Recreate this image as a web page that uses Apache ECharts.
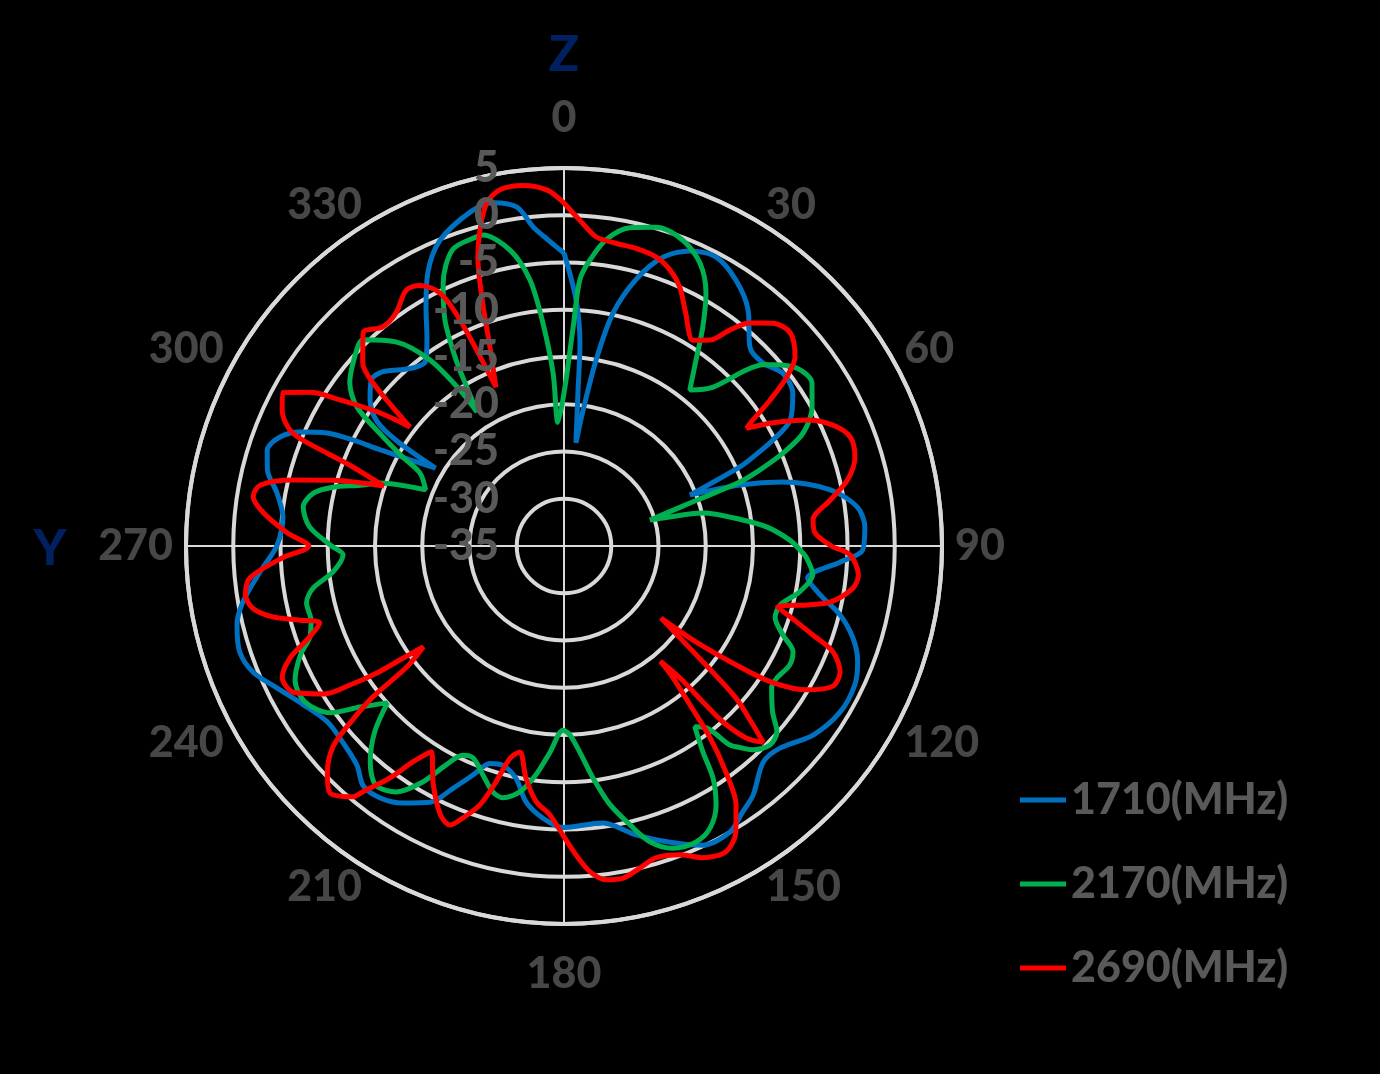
<!DOCTYPE html>
<html>
<head>
<meta charset="utf-8">
<script src="https://cdn.jsdelivr.net/npm/echarts@6/dist/echarts.min.js"></script>
<style>
html,body{margin:0;padding:0;background:#000;}
#chart{width:1380px;height:1074px;}
</style>
</head>
<body>
<div id="chart"></div>
<script>
// ---- data: [angle (deg), gain (dB)] ----
const seriesNames = ['1710(MHz)', '2170(MHz)', '2690(MHz)'];
const angleTicks = [0, 30, 60, 90, 120, 150, 180, 210, 240, 270, 300, 330];
const axisTitles = ['Z', 'Y'];

const blue1710 = [
 [0,-4.0],[2.8,-8.9],[4.5,-13.5],[5.2,-18.7],[6.6,-24.0],[8.0,-20.5],[9.8,-15.0],[11.9,-9.8],[15.1,-5.8],[18.9,-2.7],
 [23.1,-1.05],[27.7,-0.45],[32.9,-1.5],[37.9,-3.3],[43.1,-6.2],[47.4,-6.4],[51.7,-5.5],[56.3,-5.9],[60.9,-7.6],[63.1,-10.2],
 [64.8,-12.9],[65.8,-14.6],[68.0,-20.6],[70.9,-15.3],[73.7,-10.9],[78.1,-6.2],[82.4,-3.7],[86.4,-3.1],[90.8,-3.4],[93.3,-5.7],
 [97.5,-9.0],[100.8,-7.4],[104.0,-4.9],[107.7,-2.9],[111.5,-1.6],[115.5,-0.9],[121.0,-0.9],[127.2,-1.9],[133.1,-3.7],[137.3,-3.9],
 [142.8,-1.9],[146.1,-1.1],[149.9,0.0],[155.1,-0.1],[160.3,-1.7],[166.0,-3.5],[172.0,-5.4],[180.2,-5.2],[184.4,-6.1],[188.4,-7.6],
 [191.7,-9.9],[195.6,-10.9],[198.8,-10.7],[201.7,-8.9],[204.6,-6.8],[207.6,-4.4],[212.1,-2.9],[216.1,-2.0],[219.9,-1.9],[223.4,-3.1],
 [228.4,-3.7],[233.4,-3.8],[238.7,-2.7],[243.7,-1.1],[247.9,0.5],[251.9,1.1],[256.4,0.6],[260.1,-0.5],[265.1,-2.7],[270.0,-4.6],
 [275.9,-5.1],[280.5,-4.1],[284.4,-2.6],[287.9,-2.0],[291.0,-2.8],[293.4,-4.6],[295.5,-7.2],[296.7,-10.0],[297.6,-13.0],[301.2,-19.1],
 [302.2,-14.0],[303.8,-11.1],[307.0,-9.3],[310.7,-8.1],[313.9,-8.4],[317.0,-9.5],[319.7,-10.3],[323.0,-10.6],[326.4,-8.8],[330.0,-5.8],
 [333.5,-2.7],[337.9,-0.1],[344.3,1.7],[348.3,2.1],[352.1,1.2],[354.5,-1.1],[356.9,-2.5]
];

const green2170 = [
 [1.0,-16.7],[2.4,-11.8],[3.4,-6.8],[5.0,-4.8],[7.8,-2.3],[11.7,-0.6],[16.1,0.1],[21.3,-0.3],[25.7,-1.8],[29.3,-4.3],
 [32.4,-7.6],[35.4,-10.9],[38.9,-13.8],[43.1,-12.0],[46.0,-8.2],[47.7,-6.5],[49.1,-5.7],[52.6,-4.0],[56.7,-3.6],[60.7,-4.9],
 [64.7,-7.0],[67.0,-9.8],[68.8,-12.8],[70.0,-15.2],[71.0,-20.3],[73.2,-25.5],[74.2,-24.1],[76.6,-19.9],[81.7,-15.9],[84.7,-13.4],
 [88.5,-11.1],[91.0,-10.0],[92.8,-9.3],[96.6,-8.5],[101.0,-9.6],[105.3,-11.3],[108.8,-11.4],[112.1,-10.0],[114.8,-8.3],[117.8,-8.0],
 [121.8,-8.5],[124.3,-8.4],[128.5,-6.8],[131.1,-5.1],[134.0,-4.7],[137.2,-5.6],[138.9,-6.7],[140.2,-7.6],[142.0,-10.6],[144.1,-11.4],
 [146.0,-8.7],[147.3,-5.8],[149.6,-3.2],[152.6,-1.4],[156.0,-0.7],[160.2,-1.0],[163.8,-2.4],[166.7,-4.7],[169.9,-7.2],[172.9,-10.3],
 [175.6,-13.1],[178.2,-15.0],[180.3,-15.5],[183.9,-13.1],[187.0,-10.6],[190.1,-8.6],[193.6,-7.6],[196.1,-7.9],[199.5,-9.3],[203.2,-10.6],
 [205.8,-10.4],[208.3,-8.7],[210.9,-5.9],[214.3,-3.5],[218.2,-2.8],[221.9,-4.3],[225.5,-6.9],[228.4,-10.0],[231.7,-7.5],[234.5,-4.6],
 [239.0,-3.0],[243.5,-3.2],[247.5,-4.8],[250.5,-6.5],[253.6,-7.1],[257.5,-7.1],[260.5,-8.1],[263.6,-10.4],[267.7,-11.6],[270.0,-10.4],
 [274.3,-8.0],[278.5,-7.1],[281.9,-7.9],[284.3,-9.8],[286.6,-12.5],[288.9,-14.4],[292.1,-19.2],[296.9,-17.9],[298.9,-15.5],[301.1,-12.6],
 [303.9,-8.6],[307.3,-6.5],[313.4,-4.8],[315.7,-4.5],[320.5,-7.0],[324.2,-10.7],[326.3,-15.2],[327.0,-18.1],[328.4,-15.6],[329.9,-12.2],
 [332.2,-8.0],[335.3,-4.4],[339.4,-1.5],[344.1,-1.0],[345.4,-1.0],[349.7,-3.2],[352.7,-6.6],[354.6,-11.3],[356.4,-16.7],[357.2,-21.9]
];

const red2690 = [
 [0,1.3],[2.8,-0.5],[5.9,-2.1],[9.7,-2.5],[13.6,-2.6],[17.7,-2.9],[21.0,-3.7],[24.1,-5.0],[27.6,-7.2],[32.1,-9.3],
 [35.3,-8.3],[37.5,-6.2],[39.8,-4.3],[43.1,-2.7],[46.7,-2.1],[50.7,-3.4],[52.8,-5.4],[54.7,-8.3],[56.3,-11.0],[57.2,-12.0],
 [59.5,-9.3],[62.6,-6.0],[65.8,-3.8],[69.1,-2.6],[73.0,-2.8],[76.9,-4.2],[80.2,-6.4],[84.0,-8.5],[87.0,-8.4],[90.0,-6.7],
 [91.8,-4.7],[95.6,-3.7],[98.3,-4.1],[101.9,-6.2],[103.6,-8.5],[105.9,-11.5],[107.4,-9.9],[109.7,-7.0],[111.5,-4.4],[114.5,-2.9],
 [117.5,-2.9],[120.6,-5.1],[123.2,-8.6],[124.5,-12.4],[126.0,-17.7],[126.6,-22.2],[128.4,-19.3],[130.0,-15.4],[131.5,-10.7],[133.4,-7.5],
 [134.6,-5.4],[136.5,-7.0],[137.9,-9.9],[138.3,-12.9],[138.7,-16.4],[140.1,-19.1],[140.4,-16.9],[141.6,-13.5],[142.7,-9.5],[144.4,-5.6],
 [146.4,-2.1],[149.0,0.3],[152.1,1.6],[156.0,1.1],[159.4,-0.1],[163.6,-0.6],[166.7,0.0],[169.9,0.7],[172.8,0.6],[175.4,-0.4],
 [177.8,-2.3],[180.2,-4.4],[183.0,-6.5],[186.2,-7.8],[189.3,-10.1],[192.1,-12.7],[194.3,-11.8],[196.1,-9.0],[198.0,-6.2],[200.4,-4.3],
 [202.2,-3.1],[204.7,-3.7],[208.7,-6.2],[212.8,-9.1],[215.0,-7.1],[216.9,-4.3],[219.3,-1.4],[220.1,-0.3],[223.5,1.0],[226.2,-0.3],
 [229.0,-2.6],[230.4,-5.6],[231.7,-9.2],[232.4,-14.0],[234.4,-16.7],[235.2,-13.9],[235.8,-11.2],[237.0,-8.0],[238.3,-5.2],[241.5,-2.5],
 [245.0,-2.1],[247.8,-3.7],[250.0,-6.1],[252.5,-7.9],[254.3,-6.0],[256.3,-3.3],[258.7,-1.4],[261.3,-0.9],[264.2,-1.6],[267.6,-5.2],
 [270.0,-8.0],[272.7,-5.7],[276.3,-3.0],[279.0,-1.7],[281.3,-2.2],[283.7,-5.5],[285.9,-9.6],[288.4,-14.9],[290.5,-11.2],[291.4,-8.1],
 [292.6,-3.9],[295.7,-1.9],[298.6,-1.1],[301.2,-3.6],[303.1,-6.7],[305.9,-11.0],[307.7,-14.4],[310.5,-8.4],[312.3,-6.2],[316.7,-4.0],
 [320.4,-4.9],[324.2,-4.6],[328.3,-3.2],[331.1,-3.5],[333.9,-5.2],[335.3,-8.7],[336.8,-16.7],[339.6,-12.5],[341.6,-7.6],[343.4,-3.1],
 [345.1,-0.4],[347.3,2.2],[349.8,3.3],[353.5,3.4],[357.3,2.7]
];

// ---- layout / style ----
const CENTER = [564, 546];
const RADIUS = 378;
const LABEL_COLOR = '#595959';
const GRID_COLOR = '#d9d9d9';
const FONT = 'Lato';
const FONT_SIZE = 43;
const FONT_WEIGHT = 900;
const colors = ['#0070C0', '#00B050', '#FF0000'];

function toPolarData(pairs) {
  const d = pairs.map(p => [p[1], p[0]]);
  d.push([pairs[0][1], pairs[0][0] + 360]);
  return d;
}

const measureCtx = document.createElement('canvas').getContext('2d');
measureCtx.font = FONT_WEIGHT + ' ' + FONT_SIZE + 'px ' + FONT;
function tickLabelItem(a) {
  const text = String(a);
  const t = a * Math.PI / 180;
  const ux = Math.sin(t), uy = -Math.cos(t);
  const w = measureCtx.measureText(text).width;
  let off;
  if (Math.abs(ux) < 0.01) off = [0, Math.sign(uy) * 50];
  else off = [Math.sign(ux) * (13 + w / 2), uy * 15.6];
  return { value: [5, a], label: { offset: off, formatter: text } };
}

const chart = echarts.init(document.getElementById('chart'), null, { renderer: 'canvas' });
const dataSets = [blue1710, green2170, red2690];
const textCommon = { color: LABEL_COLOR, fontSize: FONT_SIZE, fontWeight: FONT_WEIGHT, fontFamily: FONT };

const option = {
  backgroundColor: '#000000',
  animation: false,
  polar: [
    { center: CENTER, radius: RADIUS },
    { center: CENTER, radius: RADIUS }
  ],
  angleAxis: [
    {
      polarIndex: 0, type: 'value', min: 0, max: 360, interval: 90,
      startAngle: 90, clockwise: true,
      axisLine: { show: true, lineStyle: { color: GRID_COLOR, width: 4 } },
      axisTick: { show: false }, axisLabel: { show: false },
      splitLine: { show: true, lineStyle: { color: GRID_COLOR, width: 2 } }
    },
    {
      polarIndex: 1, type: 'value', min: 0, max: 360, startAngle: 90, clockwise: true,
      axisLine: { show: false }, axisTick: { show: false }, axisLabel: { show: false }, splitLine: { show: false }
    }
  ],
  radiusAxis: [
    {
      polarIndex: 0, type: 'value', min: -35, max: 5, interval: 5,
      axisLine: { show: false }, axisTick: { show: false }, axisLabel: { show: false },
      splitLine: { show: true, lineStyle: { color: GRID_COLOR, width: 4 } }
    },
    {
      polarIndex: 1, type: 'value', min: -35, max: 5, interval: 5, z: 10,
      axisLine: { show: false }, axisTick: { show: false }, splitLine: { show: false },
      axisLabel: Object.assign({ show: true, margin: 65 }, textCommon)
    }
  ],
  legend: {
    orient: 'vertical', left: 1020, top: 775, itemGap: 34, padding: 0,
    icon: 'rect', itemWidth: 46, itemHeight: 5,
    data: seriesNames,
    textStyle: Object.assign({ lineHeight: 50 }, textCommon)
  },
  graphic: [
    { type: 'text', x: 564, y: 55, z: 20, style: { text: axisTitles[0], fill: '#002060', font: '900 50px ' + FONT, textAlign: 'center', textVerticalAlign: 'middle' } },
    { type: 'text', x: 50, y: 549, z: 20, style: { text: axisTitles[1], fill: '#002060', font: '900 50px ' + FONT, textAlign: 'center', textVerticalAlign: 'middle' } }
  ],
  series: dataSets.map((ds, i) => ({
    name: seriesNames[i], type: 'line', coordinateSystem: 'polar', polarIndex: 0,
    data: toPolarData(ds), smooth: 0.3, showSymbol: false, symbol: 'none',
    lineStyle: { color: colors[i], width: 5 }, itemStyle: { color: colors[i] }, z: 3 + i
  })).concat([{
    type: 'scatter', coordinateSystem: 'polar', polarIndex: 0, z: 12, silent: true,
    symbolSize: 1, itemStyle: { color: 'rgba(0,0,0,0)' },
    label: Object.assign({ show: true, position: 'inside' }, textCommon),
    data: angleTicks.map(tickLabelItem)
  }])
};
chart.setOption(option);
</script>
</body>
</html>
